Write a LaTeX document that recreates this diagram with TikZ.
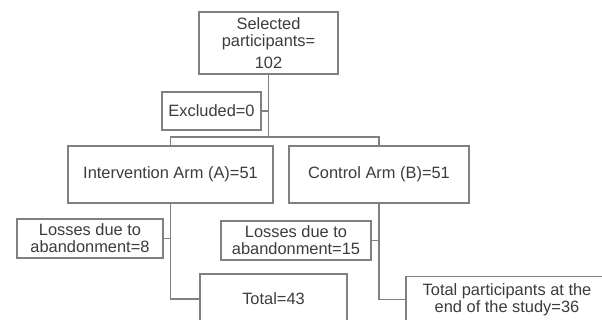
\documentclass[tikz,border=0pt]{standalone}
\usepackage{fontspec}
\setmainfont{Liberation Sans}
\usepackage{tikz}
\usetikzlibrary{calc,positioning,shadows}
\definecolor{boxline}{HTML}{808080}
\definecolor{boxtext}{HTML}{3C3C3C}
\tikzset{
  box/.style={draw=boxline,fill=white,line width=0.9pt,align=center,inner sep=2pt,
    text=boxtext,font=\fontsize{14}{14.6}\selectfont,
    drop shadow={opacity=0.2,shadow xshift=0.8pt,shadow yshift=-0.8pt}},
  link/.style={draw=boxline,line width=0.9pt}
}

\begin{document}
\begin{tikzpicture}[x=0.03cm,y=-0.03cm]
\useasboundingbox (0,0) rectangle (602,320);
\clip (0,0) rectangle (602,320);
\node[box,minimum width=139*0.03cm,minimum height=62*0.03cm] (S) at (268.5,43) {Selected\\participants=\\[4pt]102};
\node[box,minimum width=99*0.03cm,minimum height=38*0.03cm] (X) at (211.5,111) {Excluded=0};
\node[box,minimum width=205*0.03cm,minimum height=57*0.03cm] (A) at (170.5,174.5) {Intervention Arm (A)=51};
\node[box,minimum width=180*0.03cm,minimum height=57*0.03cm] (B) at (379,174.5) {Control Arm (B)=51};
\node[box,minimum width=146*0.03cm,minimum height=39*0.03cm] (LA) at (90,238.5) {Losses due to\\abandonment=8};
\node[box,minimum width=150*0.03cm,minimum height=39*0.03cm] (LB) at (296,240.5) {Losses due to\\abandonment=15};
\node[box,minimum width=147*0.03cm,minimum height=50*0.03cm] (TA) at (273.5,299) {Total=43};
\node[box,minimum width=202*0.03cm,minimum height=46*0.03cm] (TB) at (507,299.5) {Total participants at the\\end of the study=36};
\coordinate (J) at (268.5,137);
% connectors
\path[link]
(S.south) -- (J)
(A.north) |- (J) -| (B.north)
(X.east) -- (X.east -| S.south)
(A.south) |- (TA.west)
(LA.east) -- (LA.east -| A.south)
(B.south) |- (TB.west)
(LB.east) -- (LB.east -| B.south);
\end{tikzpicture}
\end{document}
